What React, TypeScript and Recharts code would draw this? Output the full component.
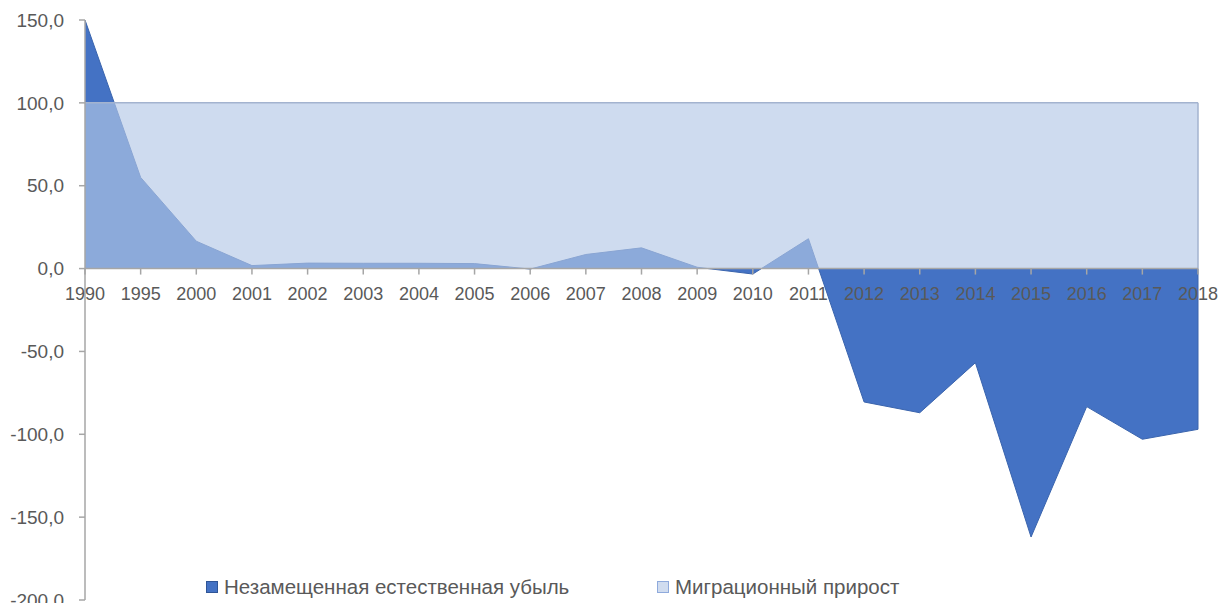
import { AreaChart, Area, XAxis, YAxis, ReferenceLine, Legend } from "recharts";

const years = [
  "1990", "1995", "2000", "2001", "2002", "2003", "2004", "2005", "2006", "2007", "2008",
  "2009", "2010", "2011", "2012", "2013", "2014", "2015", "2016", "2017", "2018",
];
const naturalLoss = [
  150, 55, 16.5, 1.8, 3.3, 3.2, 3.2, 3.0, -0.3, 8.5, 12.5,
  0.8, -3.3, 18, -80.5, -87, -56.8, -162, -83.3, -103, -97,
];
const migrationGain = [
  100, 100, 100, 100, 100, 100, 100, 100, 100, 100, 100,
  100, 100, 100, 100, 100, 100, 100, 100, 100, 100,
];
const yTicks = [-200, -150, -100, -50, 0, 50, 100, 150];

const data = years.map((year, i) => ({
  year,
  loss: naturalLoss[i],
  migration: migrationGain[i],
}));

const WIDTH = 1225;
const HEIGHT = 603;
const TOP = 20;
const BOTTOM = 2;
const X_AXIS_H = 1;
const Y_MIN = -200;
const Y_MAX = 150;
// the category axis sits on the zero line, like in Excel
const PLOT_H = HEIGHT - TOP - BOTTOM - X_AXIS_H;
const ZERO_Y = TOP + (PLOT_H * Y_MAX) / (Y_MAX - Y_MIN);

const FONT = "'Liberation Sans', Arial, sans-serif";
const TEXT = "#595959";
const AXIS = "#a6a6a6";
const DARK = "#4472c4";
const LIGHT = "#b4c7e7";

const lastYear = years[years.length - 1];
const lastLoss = naturalLoss[naturalLoss.length - 1];
const lastMigration = migrationGain[migrationGain.length - 1];

const fmt = (v: number) => v.toFixed(1).replace(".", ",");

const YearTick = ({ x, payload }: any) => (
  <g transform={`translate(${x},${ZERO_Y})`}>
    <line y1={0} y2={6} stroke={AXIS} strokeWidth={1.5} />
    <text y={31} textAnchor="middle" fill={TEXT} fontSize={18} fontFamily={FONT}>
      {payload.value}
    </text>
  </g>
);

const legendItems = [
  { label: "Незамещенная естественная убыль", color: DARK, border: "#2f5597" },
  { label: "Миграционный прирост", color: "#d0dcef", border: "#8faadc" },
];

const LegendContent = () => (
  <div style={{ display: "flex", fontFamily: FONT, fontSize: 20.5, color: TEXT, lineHeight: "24px" }}>
    {legendItems.map((it, i) => (
      <div key={it.label} style={{ display: "flex", alignItems: "center", width: i === 0 ? 451 : "auto" }}>
        <span
          style={{
            display: "inline-block",
            width: 10,
            height: 10,
            background: it.color,
            border: `1px solid ${it.border}`,
            marginRight: 6,
          }}
        />
        <span>{it.label}</span>
      </div>
    ))}
  </div>
);

export default function App() {
  return (
    <div style={{ position: "absolute", left: 0, top: 0, background: "#fff" }}>
      <AreaChart
        width={WIDTH}
        height={HEIGHT}
        data={data}
        margin={{ top: TOP, right: 27, bottom: BOTTOM, left: 0 }}
      >
        <YAxis
          width={85}
          domain={[Y_MIN, Y_MAX]}
          ticks={yTicks}
          interval={0}
          tickFormatter={fmt}
          allowDataOverflow
          tick={{ fontSize: 19, fill: TEXT, fontFamily: FONT }}
          tickSize={6}
          tickMargin={15}
          axisLine={{ stroke: AXIS, strokeWidth: 1.5 }}
          tickLine={{ stroke: AXIS, strokeWidth: 1.5 }}
        />
        <Area
          type="linear"
          dataKey="loss"
          name="Незамещенная естественная убыль"
          fill={DARK}
          fillOpacity={1}
          stroke="#3a64ad"
          strokeWidth={1}
          isAnimationActive={false}
        />
        <ReferenceLine
          segment={[{ x: lastYear, y: 0 }, { x: lastYear, y: lastLoss }]}
          stroke="#3a64ad"
          strokeWidth={1}
        />
        <Area
          type="linear"
          dataKey="migration"
          name="Миграционный прирост"
          fill={LIGHT}
          fillOpacity={0.65}
          stroke="#a3b3cf"
          strokeWidth={1.5}
          baseValue={0}
          isAnimationActive={false}
        />
        <ReferenceLine
          segment={[{ x: lastYear, y: 0 }, { x: lastYear, y: lastMigration }]}
          stroke="#a3b3cf"
          strokeWidth={1.5}
        />
        <ReferenceLine y={0} stroke={AXIS} strokeWidth={1.5} />
        <XAxis
          dataKey="year"
          height={X_AXIS_H}
          interval={0}
          axisLine={false}
          tickLine={false}
          tick={(props: any) => <YearTick {...props} />}
        />
        <Legend
          verticalAlign="middle"
          layout="horizontal"
          wrapperStyle={{ top: 575, left: 206, width: 900 }}
          content={<LegendContent />}
        />
      </AreaChart>
    </div>
  );
}
